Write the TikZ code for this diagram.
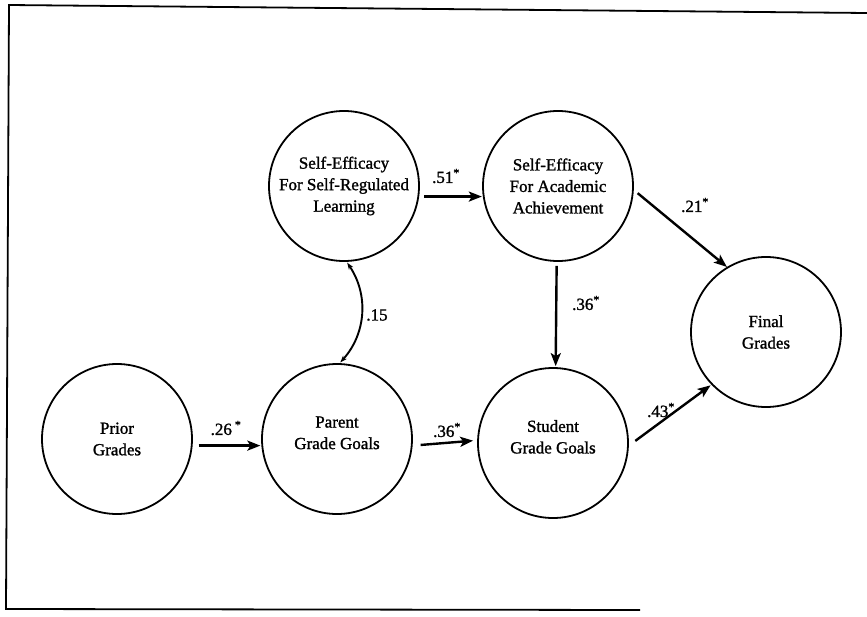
\documentclass[tikz,border=0pt]{standalone}
\usepackage{fontspec}
\setmainfont{Liberation Serif}[FakeBold=1.3]
\usetikzlibrary{arrows.meta}
\begin{document}
\begin{tikzpicture}[x=1pt,y=-1pt,
  var/.style={circle,draw,line width=1.8pt,minimum size=150pt,inner sep=0pt,align=center,
    font=\fontsize{17}{21.5}\selectfont},
  path/.style={line width=2.4pt,-{Stealth[length=13pt,width=10pt,inset=3pt]}},
  cov/.style={line width=1.9pt,{Stealth[length=7pt,width=5pt]}-{Stealth[length=7pt,width=5pt]}},
  coef/.style={font=\fontsize{17}{20}\selectfont,inner sep=0pt}]
\useasboundingbox (0,0) rectangle (867,616);
% frame (open on the right)
\coordinate (f1) at (867,13);
\coordinate (f2) at (9,5);
\coordinate (f3) at (6,609);
\coordinate (f4) at (640,610);
\draw[line width=1.8pt] (f1) -- (f2) -- (f3) -- (f4);
% variables
\node[var] (prior)   at (117,439) {Prior\\Grades};
\node[var] (parent)  at (337,439) {Parent\\Grade Goals\\[-9pt]};
\node[var] (student) at (553,443) {Student\\Grade Goals\\[-9pt]};
\node[var] (srl)     at (344,186) {Self-Efficacy\\For Self-Regulated\\Learning};
\node[var] (seaa)    at (558,186) {Self-Efficacy\\For Academic\\Achievement};
\node[var] (final)   at (766,332) {Final\\Grades};
% paths
\draw[path,shorten <=6pt,shorten >=1pt] (prior.-5) -- (parent.185);
\draw[path,shorten <=8pt,shorten >=4pt] (parent.-5) -- (student.178);
\draw[path,shorten <=5pt,shorten >=1pt] (srl.-8) -- (seaa.188);
\draw[path,shorten <=5pt,shorten >=0pt] (seaa.-3) -- (final.121);
\draw[path,shorten <=4pt,shorten >=1pt] (seaa.-91.5) -- (student.88);
\draw[path,shorten <=8pt,shorten >=1pt] (student.-2) -- (final.224);
\draw[cov,shorten <=1pt,shorten >=1pt] (srl.-88) to[bend left=38] (parent.88);
% coefficients
\node[coef] (c1) at (226,428) {.26\textsuperscript{ *}};
\node[coef] (c2) at (447,430) {.36\textsuperscript{*}};
\node[coef] (c3) at (446,176) {.51\textsuperscript{*}};
\node[coef] (c4) at (695,205) {.21\textsuperscript{*}};
\node[coef] (c5) at (586,303) {.36\textsuperscript{*}};
\node[coef] (c6) at (661,410) {.43\textsuperscript{*}};
\node[coef] (c7) at (377,315) {.15};
\end{tikzpicture}
\end{document}
